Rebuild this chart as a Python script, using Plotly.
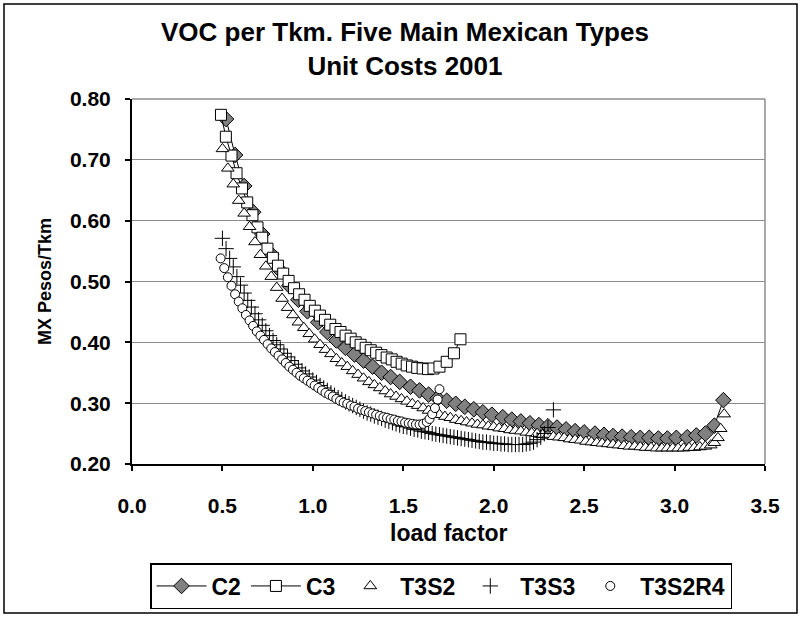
import plotly.graph_objects as go

# ---------------- data ----------------
C2_x = [0.52,0.57,0.62,0.67,0.72,0.77,0.82,0.87,0.92,0.97,
        1.03,1.08,1.13,1.18,1.23,1.28,1.33,1.38,1.43,1.48,
        1.54,1.59,1.64,1.69,1.74,1.79,1.84,1.89,1.94,1.99,
        2.05,2.10,2.15,2.20,2.25,2.30,2.35,2.40,2.45,2.50,
        2.56,2.61,2.66,2.71,2.76,2.81,2.86,2.91,2.96,3.01,
        3.07,3.12,3.17,3.22,3.27]
C2_y = [0.767,0.708,0.657,0.614,0.578,0.545,0.518,0.493,0.470,0.451,
        0.433,0.417,0.403,0.391,0.380,0.370,0.360,0.350,0.343,0.335,
        0.327,0.321,0.314,0.308,0.304,0.299,0.294,0.290,0.285,0.281,
        0.277,0.273,0.270,0.267,0.264,0.262,0.260,0.257,0.254,0.252,
        0.250,0.248,0.246,0.245,0.244,0.243,0.243,0.242,0.242,0.243,
        0.244,0.247,0.250,0.263,0.305]

C3_x = [0.492,0.519,0.550,0.578,0.608,0.637,0.666,0.694,0.720,0.749,
        0.779,0.807,0.836,0.866,0.896,0.924,0.954,0.983,1.011,1.039,
        1.067,1.096,1.125,1.153,1.181,1.209,1.237,1.264,1.292,1.320,
        1.350,1.379,1.408,1.436,1.463,1.491,1.519,1.548,1.577,1.607,
        1.637,1.667,1.700,1.740,1.780,1.816]
C3_y = [0.774,0.738,0.707,0.678,0.653,0.630,0.609,0.589,0.572,0.554,
        0.539,0.526,0.513,0.501,0.489,0.479,0.470,0.460,0.452,0.444,
        0.437,0.429,0.422,0.417,0.411,0.406,0.400,0.396,0.391,0.387,
        0.383,0.379,0.375,0.372,0.368,0.365,0.362,0.360,0.358,0.357,
        0.356,0.357,0.360,0.368,0.382,0.405]

T3S2_x = [0.50,0.53,0.56,0.59,0.62,0.65,0.68,0.71,0.74,0.77,
          0.80,0.83,0.86,0.89,0.92,0.95,0.98,1.01,1.04,1.07,
          1.10,1.13,1.16,1.19,1.22,1.25,1.28,1.31,1.34,1.37,
          1.40,1.43,1.46,1.49,1.52,1.55,1.58,1.61,1.64,1.67,
          1.70,1.73,1.76,1.79,1.82,1.85,1.88,1.91,1.94,1.97,
          2.00,2.03,2.06,2.09,2.12,2.15,2.18,2.21,2.24,2.27,
          2.30,2.33,2.36,2.39,2.42,2.45,2.48,2.51,2.54,2.57,
          2.60,2.63,2.66,2.69,2.72,2.75,2.78,2.81,2.84,2.87,
          2.90,2.93,2.96,2.99,3.02,3.05,3.08,3.11,3.14,3.17,
          3.20,3.22,3.24,3.255,3.274]
T3S2_y = [0.718,0.686,0.660,0.633,0.612,0.590,0.565,0.544,0.525,0.508,
          0.490,0.472,0.457,0.445,0.433,0.424,0.414,0.405,0.396,0.388,
          0.381,0.373,0.366,0.360,0.353,0.347,0.341,0.335,0.330,0.325,
          0.320,0.315,0.311,0.307,0.303,0.299,0.296,0.292,0.288,0.284,
          0.281,0.278,0.276,0.273,0.271,0.269,0.267,0.265,0.264,0.262,
          0.261,0.259,0.258,0.256,0.255,0.254,0.252,0.251,0.250,0.248,
          0.247,0.245,0.244,0.243,0.241,0.240,0.239,0.237,0.236,0.235,
          0.234,0.233,0.232,0.231,0.230,0.229,0.229,0.228,0.227,0.227,
          0.226,0.226,0.226,0.226,0.226,0.226,0.227,0.227,0.228,0.229,
          0.231,0.235,0.243,0.258,0.282]

T3S3_x = [0.50,0.52,0.54,0.56,0.58,0.60,0.62,0.64,0.66,0.68,
          0.70,0.72,0.74,0.76,0.78,0.80,0.82,0.84,0.86,0.88,
          0.90,0.92,0.94,0.96,0.98,1.00,1.02,1.04,1.06,1.08,
          1.10,1.12,1.14,1.16,1.18,1.20,1.22,1.24,1.26,1.28,
          1.30,1.32,1.34,1.36,1.38,1.40,1.42,1.44,1.46,1.48,
          1.50,1.52,1.54,1.56,1.58,1.60,1.62,1.64,1.66,1.68,
          1.70,1.72,1.74,1.76,1.78,1.80,1.82,1.84,1.86,1.88,
          1.90,1.92,1.94,1.96,1.98,2.00,2.02,2.04,2.06,2.08,
          2.10,2.12,2.14,2.16,2.18,2.20,2.22,2.24,2.26,2.28,
          2.30,2.33]
T3S3_y = [0.571,0.554,0.538,0.524,0.508,0.494,0.481,0.469,0.458,0.447,
          0.437,0.428,0.419,0.411,0.403,0.396,0.389,0.382,0.376,0.370,
          0.364,0.358,0.353,0.348,0.343,0.338,0.334,0.329,0.325,0.321,
          0.317,0.313,0.309,0.306,0.302,0.299,0.296,0.293,0.290,0.287,
          0.284,0.282,0.279,0.277,0.275,0.272,0.270,0.268,0.266,0.264,
          0.262,0.261,0.259,0.257,0.256,0.254,0.253,0.252,0.250,0.249,
          0.248,0.247,0.246,0.245,0.244,0.243,0.242,0.241,0.240,0.239,
          0.238,0.237,0.236,0.236,0.235,0.234,0.234,0.233,0.233,0.232,
          0.232,0.232,0.232,0.232,0.233,0.234,0.236,0.240,0.244,0.250,
          0.260,0.289]

T3S2R4_x = [0.49,0.51,0.53,0.55,0.57,0.59,0.61,0.63,0.65,0.67,
            0.69,0.71,0.73,0.75,0.77,0.79,0.81,0.83,0.85,0.87,
            0.89,0.91,0.93,0.95,0.97,0.99,1.01,1.03,1.05,1.07,
            1.09,1.11,1.13,1.15,1.17,1.19,1.21,1.23,1.25,1.27,
            1.29,1.31,1.33,1.35,1.37,1.39,1.41,1.43,1.45,1.47,
            1.49,1.51,1.53,1.55,1.57,1.59,1.61,1.63,1.645,1.66,
            1.675,1.69,1.70]
T3S2R4_y = [0.538,0.522,0.507,0.493,0.479,0.467,0.456,0.445,0.436,0.427,
            0.418,0.411,0.404,0.397,0.390,0.384,0.378,0.372,0.366,0.360,
            0.355,0.350,0.345,0.341,0.337,0.333,0.329,0.325,0.321,0.317,
            0.314,0.311,0.307,0.304,0.301,0.299,0.296,0.294,0.291,0.289,
            0.287,0.285,0.283,0.281,0.279,0.277,0.276,0.274,0.273,0.271,
            0.270,0.268,0.267,0.266,0.265,0.265,0.266,0.269,0.274,0.282,
            0.292,0.306,0.323]

X_TICKS = [0.0, 0.5, 1.0, 1.5, 2.0, 2.5, 3.0, 3.5]
Y_TICKS = [0.20, 0.30, 0.40, 0.50, 0.60, 0.70, 0.80]

TITLE_1 = "VOC per Tkm. Five Main Mexican Types"
TITLE_2 = "Unit Costs 2001"
X_TITLE = "load factor"
Y_TITLE = "MX Pesos/Tkm"

# ---------------- figure ----------------
FONT = "Liberation Sans, Arial, sans-serif"
W, H = 802, 617
L, R, T, B = 132, 37, 99, 153
PW, PH = W - L - R, H - T - B


def px(xp):
    return (xp - L) / PW


def py(yp):
    return (H - B - yp) / PH


fig = go.Figure()
fig.add_trace(go.Scatter(x=C2_x, y=C2_y, name="C2", mode="lines+markers",
                         line=dict(color="black", width=1),
                         marker=dict(symbol="diamond", size=12, color="#808080",
                                     line=dict(color="black", width=1))))
fig.add_trace(go.Scatter(x=C3_x, y=C3_y, name="C3", mode="lines+markers",
                         line=dict(color="black", width=1),
                         marker=dict(symbol="square", size=11, color="white",
                                     line=dict(color="black", width=1))))
fig.add_trace(go.Scatter(x=T3S2_x, y=T3S2_y, name="T3S2", mode="markers",
                         marker=dict(symbol="triangle-up", size=11, color="white",
                                     line=dict(color="black", width=1))))
fig.add_trace(go.Scatter(x=T3S3_x, y=T3S3_y, name="T3S3", mode="markers",
                         marker=dict(symbol="cross-thin", size=11, color="black",
                                     line=dict(color="black", width=1))))
fig.add_trace(go.Scatter(x=T3S2R4_x, y=T3S2R4_y, name="T3S2R4", mode="markers",
                         marker=dict(symbol="circle", size=9, color="white",
                                     line=dict(color="black", width=1))))

fig.update_layout(
    width=W, height=H,
    margin=dict(l=L, r=R, t=T, b=B, pad=0, autoexpand=False),
    paper_bgcolor="white", plot_bgcolor="white",
    font=dict(family=FONT, color="black"),
    showlegend=True,
    legend=dict(orientation="h", x=px(441), xanchor="center", y=py(563), yanchor="top",
                bordercolor="black", borderwidth=1.5,
                font=dict(family=FONT, size=23, color="black", weight="bold"),
                itemwidth=50, tracegroupgap=0),
    xaxis=dict(range=[0, 3.5], tickvals=X_TICKS, tickformat=".1f",
               showgrid=False, zeroline=False,
               showline=True, linecolor="black", linewidth=2,
               ticks="outside", ticklen=5, tickwidth=2, tickcolor="black",
               ticklabelstandoff=17,
               tickfont=dict(family=FONT, size=21, color="black", weight="bold")),
    yaxis=dict(range=[0.2, 0.8], tickvals=Y_TICKS, tickformat=".2f",
               showgrid=True, gridcolor="#8c8c8c", gridwidth=1, zeroline=False,
               showline=True, linecolor="black", linewidth=2,
               ticks="outside", ticklen=5, tickwidth=2, tickcolor="black",
               ticklabelstandoff=10,
               tickfont=dict(family=FONT, size=21, color="black", weight="bold")),
)

# plot-area right/top border and outer chart border
fig.add_shape(type="line", xref="paper", yref="paper", x0=0, x1=1, y0=1, y1=1,
              line=dict(color="#8c8c8c", width=1.5), layer="below")
fig.add_shape(type="line", xref="paper", yref="paper", x0=1, x1=1, y0=0, y1=1,
              line=dict(color="#8c8c8c", width=1.5), layer="below")
fig.add_shape(type="rect", xref="paper", yref="paper",
              x0=px(4), x1=px(797), y0=py(613), y1=py(4),
              line=dict(color="black", width=1.5), fillcolor="rgba(0,0,0,0)")

# titles (two-line chart title as one text block)
fig.add_annotation(text=TITLE_1 + "<br>" + TITLE_2, xref="paper", yref="paper",
                   x=px(405), y=py(49), xanchor="center", yanchor="middle",
                   showarrow=False, align="center",
                   font=dict(family=FONT, size=26, color="black", weight="bold"))
fig.add_annotation(text=X_TITLE, xref="paper", yref="paper", x=px(449), y=py(533),
                   xanchor="center", yanchor="middle", showarrow=False,
                   font=dict(family=FONT, size=23, color="black", weight="bold"))
fig.add_annotation(text=Y_TITLE, xref="paper", yref="paper", x=px(45), y=py(282),
                   xanchor="center", yanchor="middle", showarrow=False, textangle=-90,
                   font=dict(family=FONT, size=18, color="black", weight="bold"))

fig.write_html("out.html")
